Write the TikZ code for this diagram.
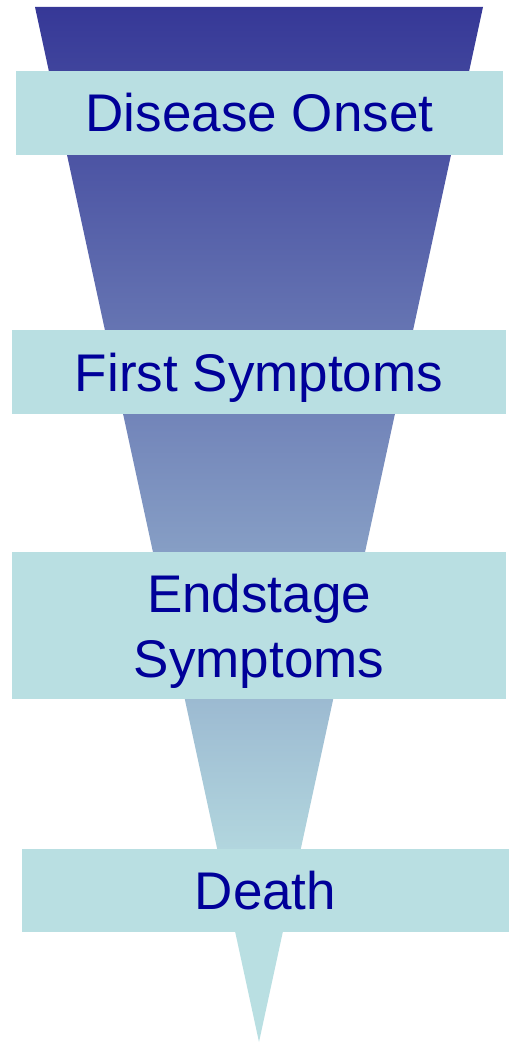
\documentclass[tikz,border=0pt]{standalone}
\usepackage{fontspec}
\setmainfont{Liberation Sans}
\usepackage{tikz}
\definecolor{funnelTop}{RGB}{54, 56, 151}
\definecolor{funnelBottom}{RGB}{185, 223, 226}
\definecolor{boxCyan}{RGB}{185, 223, 226}
\definecolor{textBlue}{RGB}{0, 0, 153}
\pgfdeclareverticalshading{funnelshade}{100bp}{color(0bp)=(funnelBottom);
  color(25bp)=(funnelBottom); color(32bp)=(funnelBottom);
  color(75bp)=(funnelTop); color(100bp)=(funnelTop)}
\tikzset{
  stagebox/.style={rectangle, fill=boxCyan, inner sep=0pt, text=textBlue,
    align=center, font=\fontsize{53}{65}\selectfont, minimum height=84pt,
    text height=38pt, text depth=0pt}
}

\begin{document}
\begin{tikzpicture}[x=1pt,y=-1pt]
    \useasboundingbox (0,0) rectangle (509,1043);
    \shade[shading=funnelshade]
        (35,7) -- (483,7) -- (259,1042) -- cycle;
    \node[stagebox, minimum width=487pt] (onset) at (259.5,113) {Disease Onset};
    \node[stagebox, minimum width=494pt] (first) at (259,372) {First Symptoms};
    \node[stagebox, minimum width=494pt, minimum height=147pt,
        text height=103pt, text depth=-4pt]
        (endstage) at (259,625.5) {Endstage\\Symptoms};
    \node[stagebox, minimum width=487pt, minimum height=83pt] (death)
        at (265.5,890.5) {Death};
\end{tikzpicture}
\end{document}
